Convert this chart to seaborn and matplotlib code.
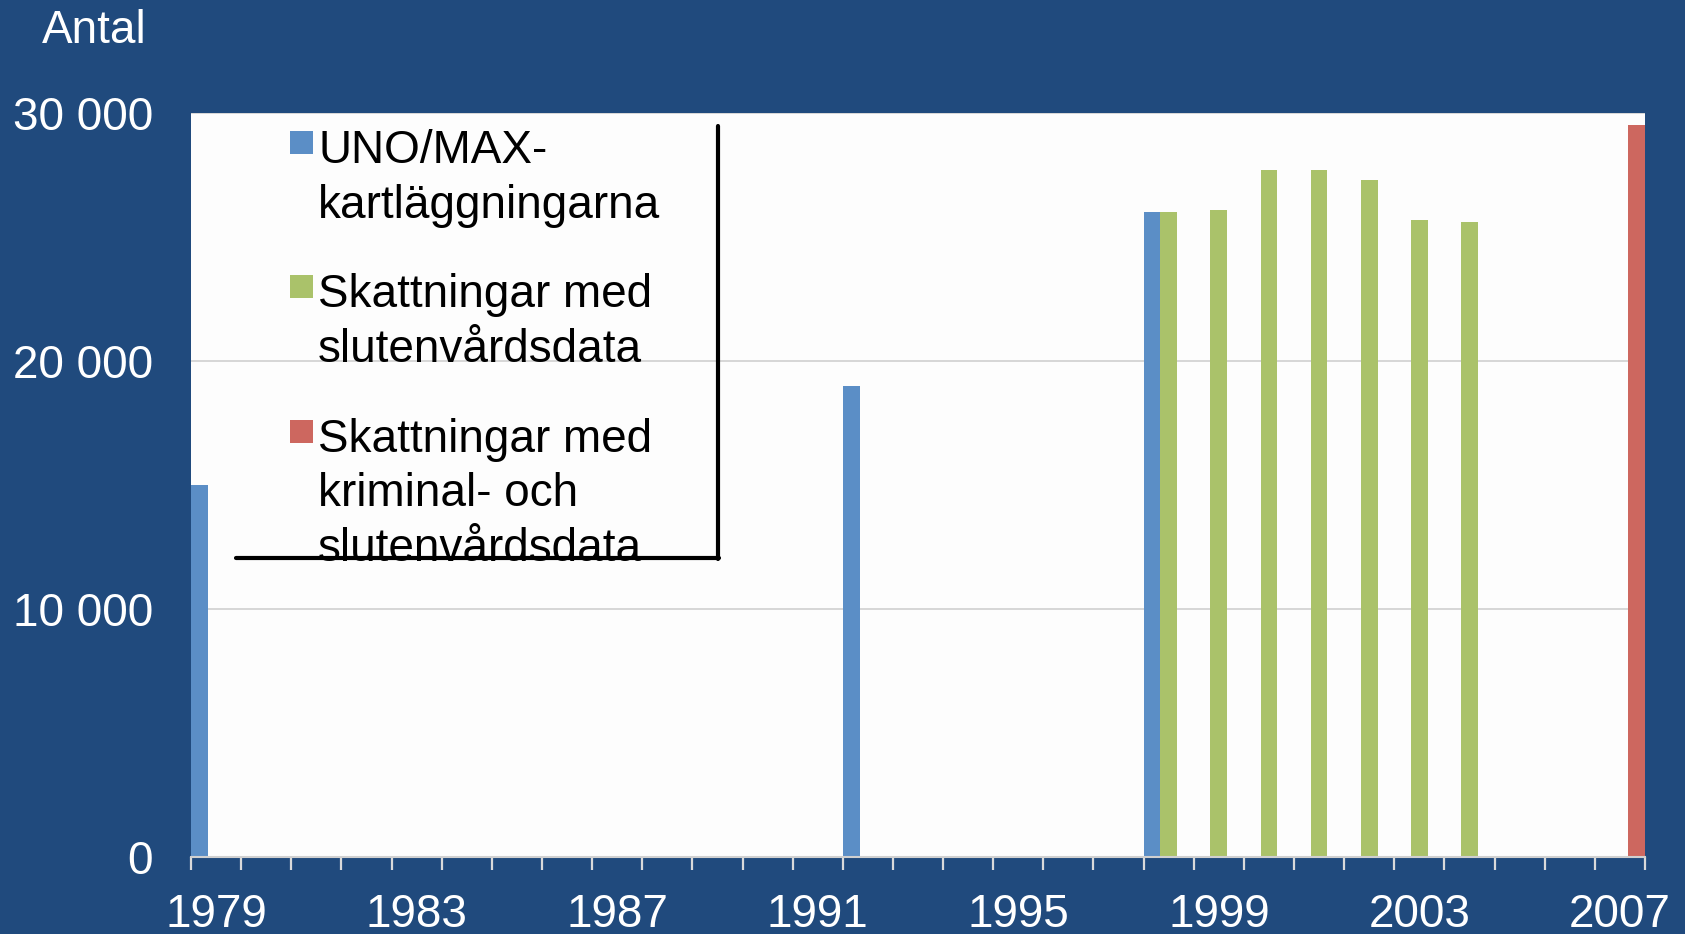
import pandas as pd
import numpy as np
import matplotlib.pyplot as plt
import seaborn as sns

from matplotlib.patches import Patch, Rectangle
from matplotlib.legend_handler import HandlerPatch
from matplotlib.lines import Line2D
from matplotlib.ticker import FuncFormatter, FixedLocator
from matplotlib.font_manager import FontProperties


# -----------------------
# Data
# -----------------------

years = [str(y) for y in range(1979, 2008)]
year_labels = ["1979", "1983", "1987", "1991", "1995", "1999", "2003", "2007"]

uno_years = ["1979", "1992", "1998"]
uno_values = [15000, 19000, 26000]

sluten_years = ["1998", "1999", "2000", "2001", "2002", "2003", "2004"]
sluten_values = [26000, 26100, 27700, 27700, 27300, 25700, 25600]

krim_years = ["2007"]
krim_values = [29500]

series_names = [
    "UNO/MAX-\nkartläggningarna",
    "Skattningar med\nslutenvårdsdata",
    "Skattningar med\nkriminal- och\nslutenvårdsdata",
]
colors = ["#5B8EC6", "#AAC26A", "#CD675F"]

bg = "#204A7D"
grid_col = "#D6D6D6"
fs = 33

df = pd.concat([
    pd.DataFrame({"year": uno_years, "antal": uno_values, "serie": series_names[0]}),
    pd.DataFrame({"year": sluten_years, "antal": sluten_values, "serie": series_names[1]}),
    pd.DataFrame({"year": krim_years, "antal": krim_values, "serie": series_names[2]}),
])


# -----------------------
# Figure
# -----------------------

sns.set_style("white")
plt.rcParams['font.family'] = ['Liberation Sans', 'DejaVu Sans']

fig = plt.figure(figsize=(16.85, 9.34), dpi=100, facecolor=bg)
ax = fig.add_axes([191 / 1685, 1 - 857 / 934, (1645 - 191) / 1685, (857 - 113) / 934])
ax.set_facecolor("#FDFDFD")

sns.barplot(
    data=df,
    x="year",
    y="antal",
    hue="serie",
    order=years,
    hue_order=series_names,
    palette=colors,
    width=1.0,
    gap=0,
    dodge=True,
    saturation=1,
    linewidth=0,
    legend=False,
    ax=ax
)

ax.set_xlim(-0.5, len(years) - 0.5)
ax.set_ylim(0, 30000)
ax.set_xlabel("")
ax.set_ylabel("")

# y axis
ax.yaxis.set_major_locator(FixedLocator([0, 10000, 20000, 30000]))
ax.yaxis.set_major_formatter(FuncFormatter(lambda v, p: f"{v:,.0f}".replace(",", " ")))
ax.tick_params(axis="y", length=0, pad=27.5, labelsize=fs, labelcolor="white")
ax.grid(axis="y", color=grid_col, linewidth=1.4)
ax.set_axisbelow(True)

# x axis
label_pos = [years.index(y) for y in year_labels]
ax.set_xticks(label_pos)
ax.set_xticklabels(year_labels)
ax.set_xticks(np.arange(-0.5, len(years)), minor=True)
ax.tick_params(axis="x", which="major", bottom=True, length=0, pad=26,
               labelsize=fs, labelcolor="white")
ax.tick_params(axis="x", which="minor", bottom=True, length=9.5, width=1.6,
               color="#DADADA", direction="out")

for side in ["left", "right", "top"]:
    ax.spines[side].set_visible(False)
ax.spines["bottom"].set_color("#D0D0D0")
ax.spines["bottom"].set_linewidth(1.5)

fig.text(42 / 1685, 1 - 31 / 934, "Antal", color="white", fontsize=fs, va="center", ha="left")


# -----------------------
# Legend (handles at the first line)
# -----------------------

line_px = 53
renderer = fig.canvas.get_renderer()
_, lp_h, lp_d = renderer.get_text_width_height_descent(
    "lp", FontProperties(family="Liberation Sans", size=fs), ismath=False
)
px_per_pt = 100 / 72
box_pt = 23 / px_per_pt


class TopPatch(HandlerPatch):
    def __init__(self, nlines):
        super().__init__()
        self.nlines = nlines

    def create_artists(self, legend, orig_handle, xdescent, ydescent,
                       width, height, fontsize, trans):
        first_base = 0.5 * ((self.nlines - 1) * line_px + lp_d)
        lift = (first_base + 10) / px_per_pt
        p = Rectangle(
            (-xdescent, lift),
            box_pt, box_pt,
            facecolor=orig_handle.get_facecolor(),
            edgecolor="none"
        )
        p.set_transform(trans)
        return [p]


handles = [Patch(facecolor=c) for c in colors]
handler_map = {h: TopPatch(name.count("\n") + 1) for h, name in zip(handles, series_names)}

leg = fig.legend(
    handles,
    series_names,
    handler_map=handler_map,
    loc="upper left",
    bbox_to_anchor=(290 / 1685, 1 - 129 / 934),
    frameon=False,
    fontsize=fs,
    handlelength=box_pt / fs,
    handletextpad=5 / px_per_pt / fs,
    labelspacing=1.0,
    borderpad=0,
    borderaxespad=0,
)
for t in leg.get_texts():
    t.set_linespacing(1.31)
    t.set_color("black")

# legend border: right and bottom edge only
fig.add_artist(Line2D([718 / 1685, 718 / 1685], [1 - 126 / 934, 1 - 559 / 934],
                      transform=fig.transFigure, color="black", linewidth=3.0))
fig.add_artist(Line2D([236 / 1685, 719 / 1685], [1 - 558 / 934, 1 - 558 / 934],
                      transform=fig.transFigure, color="black", linewidth=3.0))

fig.savefig("out.png", dpi=100, facecolor=bg)
